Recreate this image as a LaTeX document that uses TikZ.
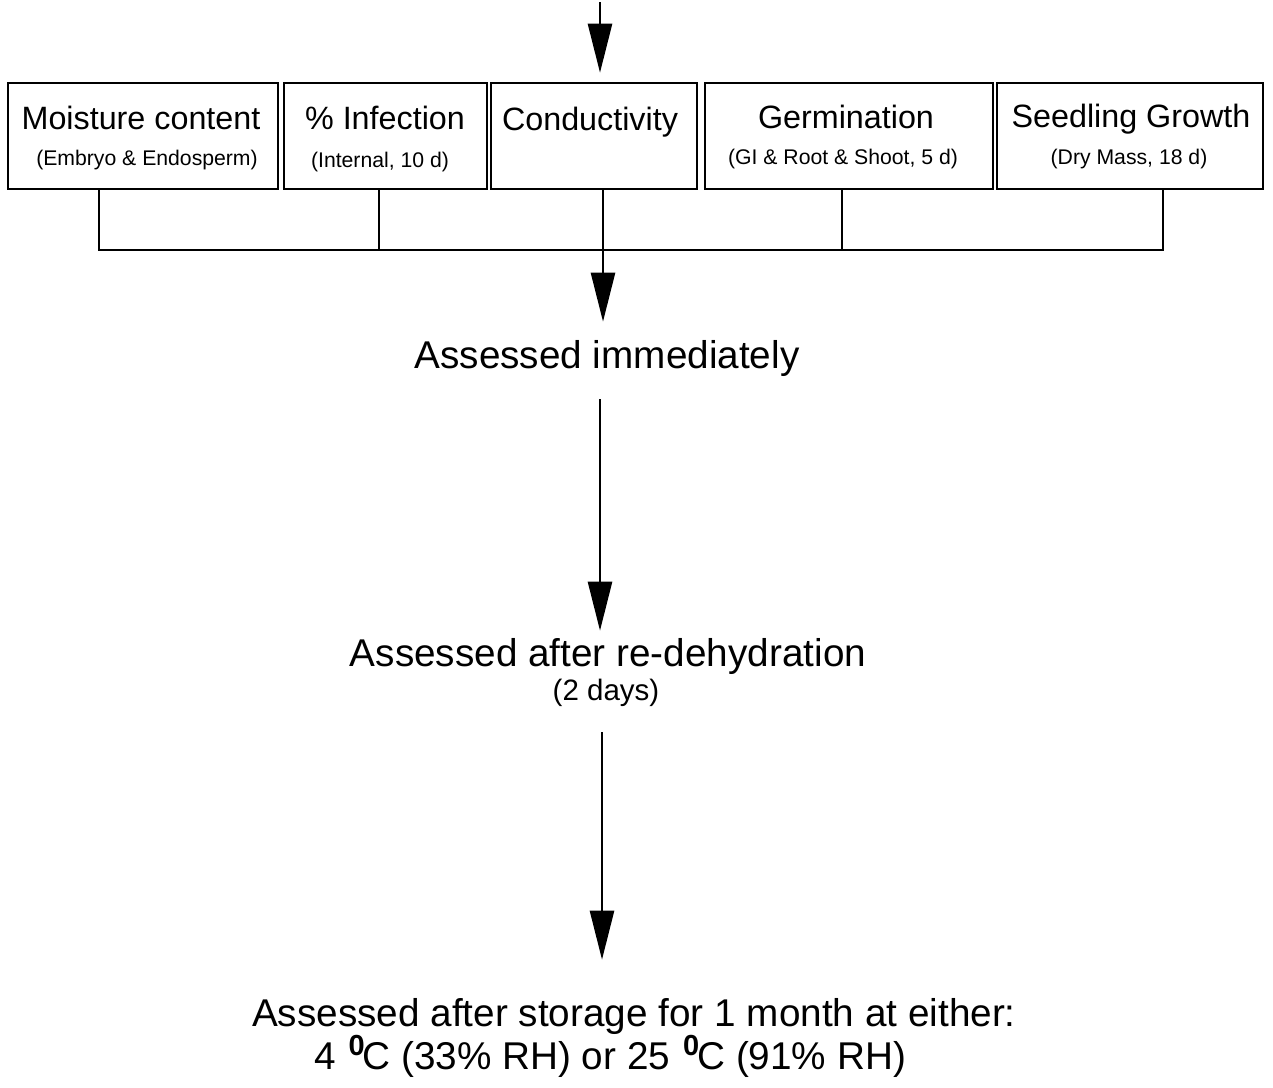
\documentclass[tikz,border=0pt]{standalone}
\usepackage{fontspec}
\setmainfont{Liberation Sans}
\usetikzlibrary{arrows.meta}
\newcommand{\degz}{\hspace{13pt}\raisebox{14pt}{\fontsize{29}{30}\selectfont\bfseries 0}\kern-2pt}
\begin{document}
\begin{tikzpicture}[x=1pt,y=-1pt,
  line width=2.6pt,
  box/.style={draw, line width=2.6pt, minimum height=106pt, inner sep=0pt},
  ttl/.style={font=\fontsize{32.3}{38}\selectfont, inner sep=0pt},
  sub/.style={font=\fontsize{21.2}{25}\selectfont, inner sep=0pt},
  big/.style={font=\fontsize{38.7}{45}\selectfont, inner sep=0pt},
  mid/.style={font=\fontsize{29.5}{34}\selectfont, inner sep=0pt},
  arr/.style={-{Triangle[length=49pt,width=24pt]}, line width=2.6pt},
  ]
\useasboundingbox (0,0) rectangle (1273,1087);

% boxes
\node[box, minimum width=270pt] (b1) at (143,136) {};
\node[box, minimum width=203pt] (b2) at (385.5,136) {};
\node[box, minimum width=206pt] (b3) at (594,136) {};
\node[box, minimum width=288pt] (b4) at (849,136) {};
\node[box, minimum width=266pt] (b5) at (1130,136) {};

\node[ttl] (t1) at (141,118) {Moisture content};
\node[sub] (s1) at (147,160) {(Embryo \& Endosperm)};
\node[ttl] (t2) at (385,118) {\% Infection};
\node[sub] (s2) at (380,162) {(Internal, 10 d)};
\node[ttl] (t3) at (590,122) {Conductivity};
\node[ttl] (t4) at (846,117) {Germination};
\node[sub] (s4) at (843,159) {(GI \& Root \& Shoot, 5 d)};
\node[ttl] (t5) at (1131,119) {Seedling Growth};
\node[sub] (s5) at (1129,159) {(Dry Mass, 18 d)};

% labels
\node[big] (imm) at (607,358) {Assessed immediately};
\node[big] (red) at (608,656) {Assessed after re-dehydration};
\node[mid] (days) at (606,693) {(2 days)};
\node[big] (st1) at (634,1016) {Assessed after storage for 1 month at either:};
\node[big] (st2) at (610,1056) {4\degz C (33\% RH) or 25\degz C (91\% RH)};

% coordinates
\coordinate (top) at (600,2);
\coordinate (j1) at (99,250);
\coordinate (j2) at (379,250);
\coordinate (j3) at (603,250);
\coordinate (j4) at (842,250);
\coordinate (j5) at (1163,250);
\coordinate (a3) at (600,0);
\coordinate (a4) at (602,0);

% connectors
\draw[arr, shorten >=9pt] (top) -- (b3.north -| top);
\draw (b1.south -| j1) -- (j1) -- (j5) -- (b5.south -| j5);
\draw (b2.south -| j2) -- (j2);
\draw (b4.south -| j4) -- (j4);
\draw[arr, shorten >=17pt] (b3.south -| j3) -- (imm.north -| j3);
\draw[arr, shorten <=22pt, shorten >=6pt] (imm.south -| a3) -- (red.north -| a3);
\draw[arr, shorten <=24pt, shorten >=37pt] (days.south -| a4) -- (st1.north -| a4);
\end{tikzpicture}
\end{document}
